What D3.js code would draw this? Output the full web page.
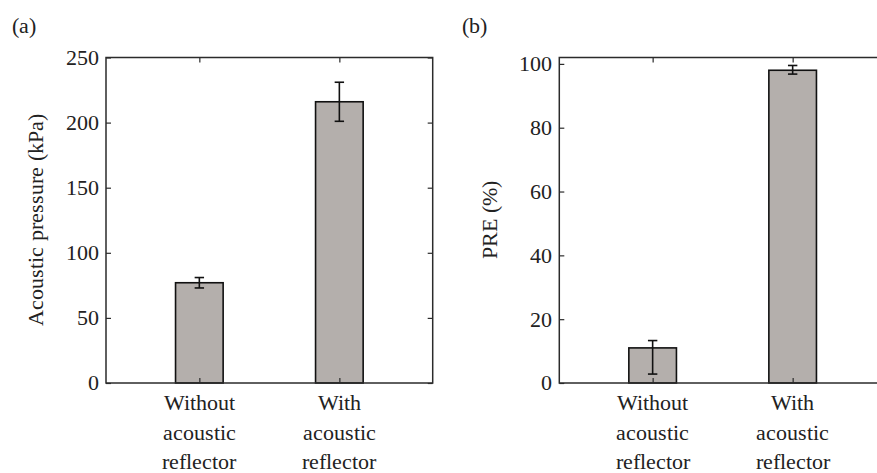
<!DOCTYPE html>
<html>
<head>
<meta charset="utf-8">
<script src="https://cdn.jsdelivr.net/npm/d3@7"></script>
<style>
  @font-face { font-family: "ChartSerif"; src: local("Liberation Serif"), local("LiberationSerif"), local("Liberation Serif Regular"), local("Times New Roman"); }
  html, body { margin: 0; padding: 0; background: #fff; }
  svg { display: block; }
  svg text { font-family: "ChartSerif", "Liberation Serif", "Times New Roman", serif; }
</style>
</head>
<body>
<svg id="chart" width="877" height="473"></svg>
<script>
// ---- data ----
const categories = ["Without acoustic reflector", "With acoustic reflector"];
const pressureMean = [77, 216];
const pressureLow = [73, 201];
const pressureHigh = [81, 231];
const pressureTicks = [0, 50, 100, 150, 200, 250];
const preMean = [11, 98];
const preLow = [2.8, 96.8];
const preHigh = [13.3, 99.5];
const preTicks = [0, 20, 40, 60, 80, 100];

const svg = d3.select("#chart");
const FAMILY = '"ChartSerif", "Liberation Serif", "Times New Roman", serif';
const FONT = 22;
const axisColor = "#2b2b2b";
const barFill = "#b4afac";
const textColor = "#222";

function addText(str) {
  return svg.append("text")
    .attr("font-family", FAMILY)
    .style("font-family", FAMILY)
    .attr("font-size", FONT)
    .attr("fill", textColor)
    .text(str);
}

function panel(opts) {
  const { left, right, top, bottom, yMax, ticks, means, lows, highs, ylabel, tag, tagX } = opts;
  const g = svg.append("g");
  const x = d3.scaleLinear().domain([1/3, 8/3]).range([left, right]);
  const y = d3.scaleLinear().domain([0, yMax]).range([bottom, top]);
  const idx = categories.map((c, i) => i + 1);
  const bw = x(1.34) - x(1);

  g.selectAll("rect.bar").data(means).join("rect")
    .attr("class", "bar")
    .attr("x", (d, i) => x(idx[i]) - bw / 2)
    .attr("width", bw)
    .attr("y", d => y(d))
    .attr("height", d => y(0) - y(d))
    .attr("fill", barFill)
    .attr("stroke", "#111")
    .attr("stroke-width", 1.6);

  const cap = 4.7;
  const eb = g.selectAll("g.err").data(means).join("g").attr("class", "err")
    .attr("stroke", "#111").attr("stroke-width", 1.6);
  eb.append("line")
    .attr("x1", (d, i) => x(idx[i])).attr("x2", (d, i) => x(idx[i]))
    .attr("y1", (d, i) => y(lows[i])).attr("y2", (d, i) => y(highs[i]));
  eb.append("line")
    .attr("x1", (d, i) => x(idx[i]) - cap).attr("x2", (d, i) => x(idx[i]) + cap)
    .attr("y1", (d, i) => y(lows[i])).attr("y2", (d, i) => y(lows[i]));
  eb.append("line")
    .attr("x1", (d, i) => x(idx[i]) - cap).attr("x2", (d, i) => x(idx[i]) + cap)
    .attr("y1", (d, i) => y(highs[i])).attr("y2", (d, i) => y(highs[i]));

  const yl = g.append("g").attr("transform", `translate(${left},0)`)
    .call(d3.axisLeft(y).tickValues(ticks).tickSize(-5).tickFormat(""));
  const yr = g.append("g").attr("transform", `translate(${right},0)`)
    .call(d3.axisRight(y).tickValues(ticks).tickSize(-5).tickFormat(""));
  const xt = g.append("g").attr("transform", `translate(0,${top})`)
    .call(d3.axisTop(x).tickValues(idx).tickSize(-5).tickFormat(""));
  const xb = g.append("g").attr("transform", `translate(0,${bottom})`)
    .call(d3.axisBottom(x).tickValues(idx).tickSize(-5).tickFormat(""));
  [yl, yr, xt, xb].forEach(a => {
    a.select(".domain").remove();
    a.selectAll(".tick text").remove();
    a.selectAll(".tick line").attr("stroke", axisColor).attr("stroke-width", 1.2);
  });

  ticks.forEach(t => {
    addText(d3.format("d")(t))
      .attr("x", left - 7)
      .attr("y", y(t))
      .attr("dy", "0.34em")
      .attr("text-anchor", "end");
  });

  g.append("rect")
    .attr("x", left).attr("y", top)
    .attr("width", right - left).attr("height", bottom - top)
    .attr("fill", "none").attr("stroke", axisColor).attr("stroke-width", 1.5);

  categories.forEach((c, i) => {
    c.split(" ").forEach((w, j) => {
      addText(w)
        .attr("x", x(idx[i]))
        .attr("y", 410 + j * 29.5)
        .attr("text-anchor", "middle");
    });
  });

  addText(ylabel)
    .attr("transform", `translate(${left - 70},${(top + bottom) / 2}) rotate(-90)`)
    .attr("text-anchor", "middle")
    .attr("dy", "0.34em");

  addText(tag).attr("x", tagX).attr("y", 33);
}

panel({ left: 106, right: 432.7, top: 57.5, bottom: 383, yMax: 250, ticks: pressureTicks,
  means: pressureMean, lows: pressureLow, highs: pressureHigh,
  ylabel: "Acoustic pressure (kPa)", tag: "(a)", tagX: 12 });
panel({ left: 559.3, right: 886, top: 57.5, bottom: 383, yMax: 102, ticks: preTicks,
  means: preMean, lows: preLow, highs: preHigh,
  ylabel: "PRE (%)", tag: "(b)", tagX: 462 });
</script>
</body>
</html>
